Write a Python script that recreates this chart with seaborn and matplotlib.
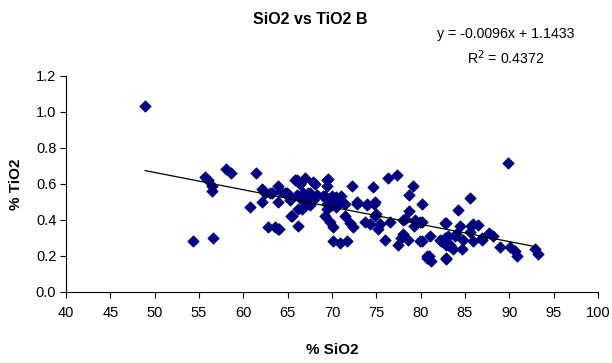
import matplotlib
matplotlib.use("Agg")
import matplotlib.pyplot as plt
import numpy as np
import pandas as pd
import seaborn as sns

# SiO2 (%) and TiO2 (%) for the B sample set
sio2 = [
    48.9, 54.3, 56.6, 55.7, 56.0, 56.5, 56.5, 58.0, 58.6, 60.8,
    61.4, 62.1, 62.4, 63.0, 62.1, 63.9, 64.1, 63.9, 64.7, 65.3,
    65.8, 66.4, 67.0, 66.0, 66.6, 66.2, 65.4, 62.8, 63.9, 66.2,
    67.1, 67.1, 68.1, 69.4, 69.4, 66.7, 67.5, 67.9, 69.2, 70.0,
    70.5, 69.4, 70.0, 69.2, 69.8, 70.1, 71.5, 72.0, 72.4, 70.1,
    70.9, 71.7, 72.2, 72.8, 73.9, 74.6, 74.9, 73.7, 74.3, 75.2,
    76.3, 77.3, 79.1, 78.7, 80.1, 74.7, 75.0, 76.5, 75.4, 78.0,
    78.7, 79.4, 79.9, 79.2, 78.0, 77.8, 78.6, 76.0, 77.5, 79.9,
    81.0, 82.3, 82.7, 82.9, 80.9, 89.9, 85.6, 84.2, 82.9, 84.4,
    85.9, 86.5, 85.6, 87.7, 88.2, 82.7, 83.9, 84.8, 85.9, 86.9,
    82.2, 83.1, 83.7, 84.7, 89.0, 90.1, 90.6, 82.9, 80.1, 80.1,
    80.7, 81.2, 82.9, 82.4, 83.1, 83.3, 84.0, 85.7, 86.9, 90.9,
    92.9, 93.2, 63.2, 63.6, 64.0, 69.5, 67.8, 66.0, 69.0, 69.6,
    70.4, 70.7, 71.0, 71.5, 69.4, 70.5, 67.3, 68.3, 66.6, 67.5,
    64.9, 65.3, 66.8, 67.9, 72.8, 74.0, 78.2, 80.7, 65.5, 74.9,
]
tio2 = [
    1.03, 0.28, 0.30, 0.64, 0.62, 0.59, 0.56, 0.68, 0.66, 0.47,
    0.66, 0.57, 0.55, 0.55, 0.50, 0.59, 0.56, 0.50, 0.55, 0.53,
    0.62, 0.60, 0.63, 0.54, 0.51, 0.46, 0.42, 0.36, 0.35, 0.365,
    0.50, 0.48, 0.60, 0.62, 0.59, 0.55, 0.55, 0.51, 0.53, 0.53,
    0.52, 0.49, 0.48, 0.42, 0.39, 0.36, 0.42, 0.385, 0.36, 0.28,
    0.27, 0.28, 0.59, 0.50, 0.48, 0.58, 0.50, 0.39, 0.375, 0.35,
    0.635, 0.65, 0.59, 0.54, 0.49, 0.49, 0.43, 0.39, 0.375, 0.40,
    0.45, 0.40, 0.39, 0.365, 0.32, 0.30, 0.29, 0.29, 0.26, 0.28,
    0.31, 0.28, 0.38, 0.26, 0.20, 0.715, 0.52, 0.455, 0.38, 0.365,
    0.375, 0.37, 0.33, 0.325, 0.31, 0.30, 0.31, 0.29, 0.28, 0.29,
    0.29, 0.26, 0.24, 0.24, 0.25, 0.25, 0.225, 0.19, 0.39, 0.285,
    0.20, 0.17, 0.18, 0.28, 0.31, 0.26, 0.32, 0.365, 0.30, 0.20,
    0.24, 0.21, 0.55, 0.36, 0.35, 0.625, 0.61, 0.62, 0.53, 0.51,
    0.525, 0.495, 0.53, 0.49, 0.46, 0.47, 0.55, 0.54, 0.46, 0.48,
    0.55, 0.51, 0.52, 0.51, 0.49, 0.49, 0.405, 0.19, 0.42, 0.42,
]

# Linear trendline coefficients and fit quality
slope = -0.0096
intercept = 1.1433
r_squared = 0.4372

x_ticks = [40, 45, 50, 55, 60, 65, 70, 75, 80, 85, 90, 95, 100]
y_ticks = [0.0, 0.2, 0.4, 0.6, 0.8, 1.0, 1.2]

sns.set_theme(style="white")
plt.rcParams["font.family"] = ["Liberation Sans", "DejaVu Sans"]
plt.rcParams["text.color"] = "black"
plt.rcParams["axes.labelcolor"] = "black"
plt.rcParams["xtick.color"] = "black"
plt.rcParams["ytick.color"] = "black"

df = pd.DataFrame({"SiO2": sio2, "TiO2": tio2})
fit_x = np.array([min(sio2), max(sio2)])
fit = pd.DataFrame({"SiO2": fit_x, "TiO2": slope * fit_x + intercept})

fig = plt.figure(figsize=(6.12, 3.63), dpi=100)
ax = fig.add_axes([0.108, 0.196, 0.869, 0.595])

sns.scatterplot(data=df, x="SiO2", y="TiO2", ax=ax, marker="D", s=34,
                color="#000080", edgecolor="#000080", linewidth=0.5, zorder=3)
sns.lineplot(data=fit, x="SiO2", y="TiO2", ax=ax, color="black",
             linewidth=0.9, zorder=4)

ax.set_xlim(40, 100)
ax.set_ylim(0, 1.2)
ax.set_xticks(x_ticks)
ax.set_yticks(y_ticks)
ax.set_xticklabels([str(t) for t in x_ticks])
ax.set_yticklabels([f"{t:.1f}" for t in y_ticks])
ax.tick_params(axis="both", which="major", direction="out", length=4,
               width=0.8, color="black", labelcolor="black", labelsize=10.5,
               pad=3, bottom=True, left=True)
ax.tick_params(axis="x", pad=6)

for side in ("top", "right"):
    ax.spines[side].set_visible(False)
for side in ("left", "bottom"):
    ax.spines[side].set_color("black")
    ax.spines[side].set_linewidth(0.8)

ax.set_xlabel("% SiO2", fontsize=11, fontweight="bold", labelpad=17,
              color="black")
ax.set_ylabel("% TiO2", fontsize=11, fontweight="bold", labelpad=9,
              color="black")
fig.text(0.507, 0.945, "SiO2 vs TiO2 B", ha="center", va="center",
         fontsize=11.5, fontweight="bold", color="black")

fig.text(0.826, 0.905, f"y = {slope}x + {intercept}", ha="center",
         va="center", fontsize=10.2, color="black")
fig.text(0.826, 0.84, f"R$^2$ = {r_squared}", ha="center", va="center",
         fontsize=10.2, color="black")

fig.savefig("out.png", dpi=100)
